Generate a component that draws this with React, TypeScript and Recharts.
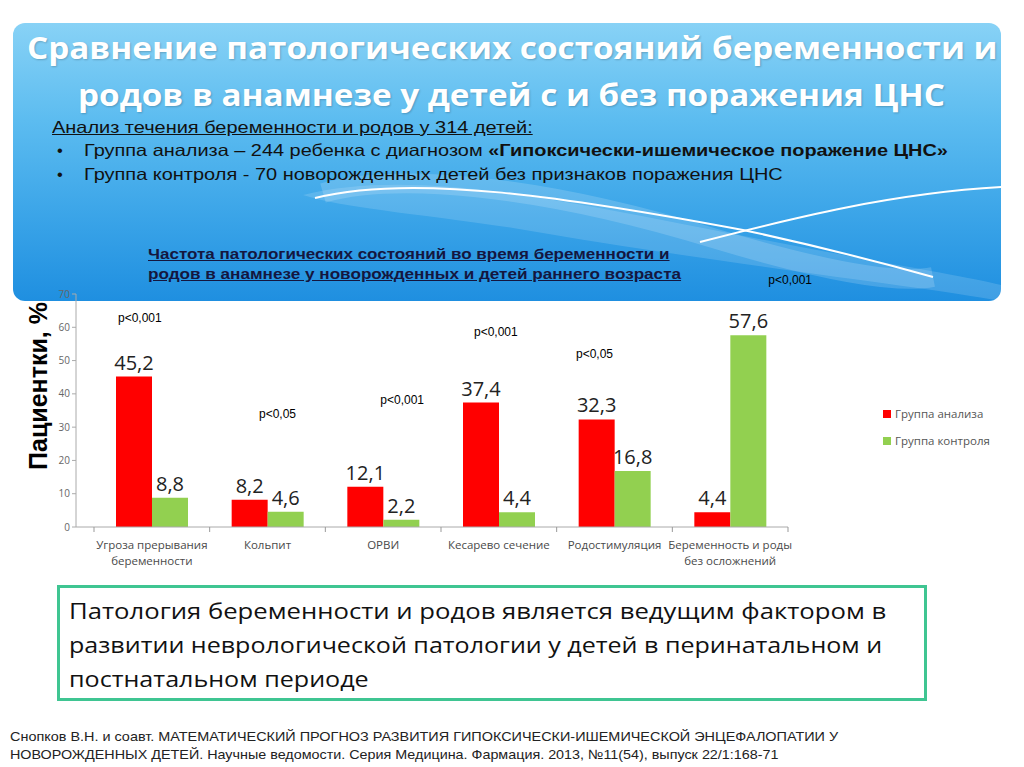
import React, { useLayoutEffect, useRef, useState } from 'react';
import { BarChart, Bar, XAxis, YAxis, LabelList, Legend, ReferenceDot } from 'recharts';

const categories = [
  'Угроза прерывания\nбеременности',
  'Кольпит',
  'ОРВИ',
  'Кесарево сечение',
  'Родостимуляция',
  'Беременность и роды\nбез осложнений',
];
const analysisGroup = [45.2, 8.2, 12.1, 37.4, 32.3, 4.4];
const controlGroup = [8.8, 4.6, 2.2, 4.4, 16.8, 57.6];
const pValues = ['p<0,001', 'p<0,05', 'p<0,001', 'p<0,001', 'p<0,05', 'p<0,001'];
const pValueLevels = [63, 34, 38.2, 58.6, 52, 74.2];
const pValueShift = [-12, 10, 19, -3, -20, 60];
const yTicks = [0, 10, 20, 30, 40, 50, 60, 70];
const seriesNames = ['Группа анализа', 'Группа контроля'];

const data = categories.map((c, i) => ({
  name: c,
  analysis: analysisGroup[i],
  control: controlGroup[i],
}));

const RED = '#ff0000';
const GREEN = '#92d050';
const SANS = "'Liberation Sans', Arial, sans-serif";
const OPEN = "'Open Sans', sans-serif";

const fmt = (v: any) => String(v).replace('.', ',');

const Fit = ({ left, top, w, style, underline, children }: any) => {
  const ref = useRef<HTMLSpanElement>(null);
  const [s, setS] = useState(1);
  useLayoutEffect(() => {
    if (ref.current) {
      const nat = ref.current.offsetWidth;
      if (nat) setS(w / nat);
    }
  }, [w]);
  return (
    <div style={{ position: 'absolute', left, top, whiteSpace: 'nowrap', ...style }}>
      <span
        ref={ref}
        style={{
          display: 'inline-block', transform: `scaleX(${s})`, transformOrigin: 'left center',
          textDecoration: underline ? 'underline' : 'none',
        }}
      >
        {children}
      </span>
    </div>
  );
};

const XTick = (props: any) => {
  const { x, y, payload } = props;
  const lines = String(payload.value).split('\n');
  const half = payload.offset || 58;
  const isLast = payload.index === categories.length - 1;
  return (
    <g>
      <line x1={x - half} y1={y - 8} x2={x - half} y2={y - 3} stroke="#999" />
      {isLast && <line x1={x + half} y1={y - 8} x2={x + half} y2={y - 3} stroke="#999" />}
      <text x={x} y={y + 14} textAnchor="middle" fill="#4a4a4a" fontSize={11.5} fontFamily={OPEN}>
        {lines.map((l, i) => (
          <tspan key={i} x={x} dy={i === 0 ? 0 : 16}>{l}</tspan>
        ))}
      </text>
    </g>
  );
};

const LegendContent = () => (
  <div style={{ fontFamily: OPEN, fontSize: 11.5, color: '#555' }}>
    {[RED, GREEN].map((c, i) => (
      <div key={i} style={{ display: 'flex', alignItems: 'center', height: 27 }}>
        <span style={{ display: 'inline-block', width: 8, height: 8, background: c, marginRight: 4 }} />
        {seriesNames[i]}
      </div>
    ))}
  </div>
);

export default function App() {
  const title = { fontFamily: OPEN, fontWeight: 'bold', fontSize: 31, lineHeight: '40px', color: '#fff', textShadow: '1px 1px 2px rgba(0,0,0,0.2)' };
  const body = { fontFamily: SANS, fontSize: 16.5, lineHeight: '22px', color: '#111' };
  const head = { fontFamily: SANS, fontSize: 15, fontWeight: 'bold', lineHeight: '20px', color: '#14163f' };
  const concl = { fontFamily: OPEN, fontSize: 22, lineHeight: '34px', color: '#111' };
  const cite = { fontFamily: SANS, fontSize: 13.5, lineHeight: '18px', color: '#222' };
  return (
    <div style={{ position: 'absolute', left: 0, top: 0, width: 1024, height: 767, background: '#fff', overflow: 'hidden' }}>
      {/* Banner */}
      <div
        style={{
          position: 'absolute', left: 13, top: 23, width: 988, height: 278, borderRadius: 12,
          background: 'linear-gradient(180deg, #88d2f6 0%, #5cbcf0 35%, #3aa4e8 70%, #1f8fe0 100%)',
          overflow: 'hidden',
        }}
      >
        <svg width={988} height={278} style={{ position: 'absolute', left: 0, top: 0 }}>
          <path d="M 290 172 C 420 140, 600 190, 820 230 C 900 245, 960 255, 988 262 L 988 278 C 900 262, 700 240, 500 205 C 400 190, 330 185, 290 172 Z" fill="rgba(255,255,255,0.14)" />
          <path d="M 310 170 C 380 150, 520 160, 700 215 C 800 245, 880 262, 920 254" fill="none" stroke="rgba(255,255,255,0.16)" strokeWidth={20} />
          <path d="M 302 175 C 400 150, 560 175, 730 207 C 800 222, 870 240, 920 254" fill="none" stroke="#fff" strokeWidth={2} />
          <path d="M 687 219 C 780 195, 880 170, 990 164" fill="none" stroke="#fff" strokeWidth={2} />
        </svg>
      </div>
      <Fit left={27} top={27} w={970} style={title}>Сравнение патологических состояний беременности и</Fit>
      <Fit left={78} top={74} w={867} style={title}>родов в анамнезе у детей с и без поражения ЦНС</Fit>

      <Fit left={52} top={116} w={481} style={body} underline>Анализ течения беременности и родов у 314 детей:</Fit>
      <div style={{ position: 'absolute', left: 57, top: 139, ...body }}>•</div>
      <Fit left={84} top={139} w={864} style={body}>
        Группа анализа – 244 ребенка с диагнозом <b>«Гипоксически-ишемическое поражение ЦНС»</b>
      </Fit>
      <div style={{ position: 'absolute', left: 57, top: 163, ...body }}>•</div>
      <Fit left={84} top={163} w={699} style={body}>Группа контроля - 70 новорожденных детей без признаков поражения ЦНС</Fit>

      <Fit left={148} top={244} w={522} style={head} underline>Частота патологических состояний во время беременности и</Fit>
      <Fit left={148} top={264} w={533} style={head} underline>родов в анамнезе у новорожденных и детей раннего возраста</Fit>

      {/* Y axis title */}
      <div style={{ position: 'absolute', left: 38, top: 386, width: 0, height: 0 }}>
        <div
          style={{
            position: 'absolute', transform: 'translate(-50%, -50%) rotate(-90deg)', whiteSpace: 'nowrap',
            fontFamily: SANS, fontWeight: 'bold', fontSize: 25, color: '#000',
          }}
        >
          Пациентки, %
        </div>
      </div>

      {/* Chart */}
      <div style={{ position: 'absolute', left: 0, top: 260 }}>
        <BarChart
          width={1024}
          height={320}
          data={data}
          margin={{ top: 34, right: 236, left: 46, bottom: 0 }}
          barSize={36}
          barGap={0}
        >
          <XAxis
            dataKey="name"
            height={53}
            axisLine={{ stroke: '#aaa' }}
            tickLine={false}
            interval={0}
            padding={{ left: 18, right: 0 }}
            tick={<XTick />}
          />
          <YAxis
            width={30}
            domain={[0, 70]}
            ticks={yTicks}
            interval={0}
            axisLine={{ stroke: '#aaa' }}
            tickLine={{ stroke: '#aaa' }}
            tickSize={4}
            tick={{ fontSize: 10, fill: '#666', fontFamily: OPEN }}
          />
          <Legend
            layout="vertical"
            align="center"
            verticalAlign="middle"
            content={<LegendContent />}
            wrapperStyle={{ left: 883, top: 140, width: 140 }}
          />
          <Bar dataKey="analysis" name={seriesNames[0]} fill={RED} isAnimationActive={false}>
            <LabelList dataKey="analysis" position="top" offset={7} formatter={fmt} fill="#222" fontSize={20} fontFamily={OPEN} />
          </Bar>
          <Bar dataKey="control" name={seriesNames[1]} fill={GREEN} isAnimationActive={false}>
            <LabelList dataKey="control" position="top" offset={7} formatter={fmt} fill="#222" fontSize={20} fontFamily={OPEN} />
          </Bar>
          {categories.map((c, i) => (
            <ReferenceDot
              key={i}
              x={c}
              y={pValueLevels[i]}
              r={0}
              ifOverflow="visible"
              label={{ value: pValues[i], position: 'center', dx: pValueShift[i], fontSize: 12, fill: '#000', fontFamily: SANS }}
            />
          ))}
        </BarChart>
      </div>

      {/* Conclusion box */}
      <div
        style={{
          position: 'absolute', left: 57, top: 585, width: 870, height: 116, border: '3px solid #3fc592',
          boxSizing: 'border-box',
        }}
      />
      <Fit left={69} top={593} w={817} style={concl}>Патология беременности и родов является ведущим фактором в</Fit>
      <Fit left={69} top={627} w={813} style={concl}>развитии неврологической патологии у детей в перинатальном и</Fit>
      <Fit left={69} top={661} w={300} style={concl}>постнатальном периоде</Fit>

      {/* Citation */}
      <Fit left={10} top={728} w={828} style={cite}>
        Снопков В.Н. и соавт. МАТЕМАТИЧЕСКИЙ ПРОГНОЗ РАЗВИТИЯ ГИПОКСИЧЕСКИ-ИШЕМИЧЕСКОЙ ЭНЦЕФАЛОПАТИИ У
      </Fit>
      <Fit left={10} top={746} w={768} style={cite}>
        НОВОРОЖДЕННЫХ ДЕТЕЙ. Научные ведомости. Серия Медицина. Фармация. 2013, №11(54), выпуск 22/1:168-71
      </Fit>
    </div>
  );
}
